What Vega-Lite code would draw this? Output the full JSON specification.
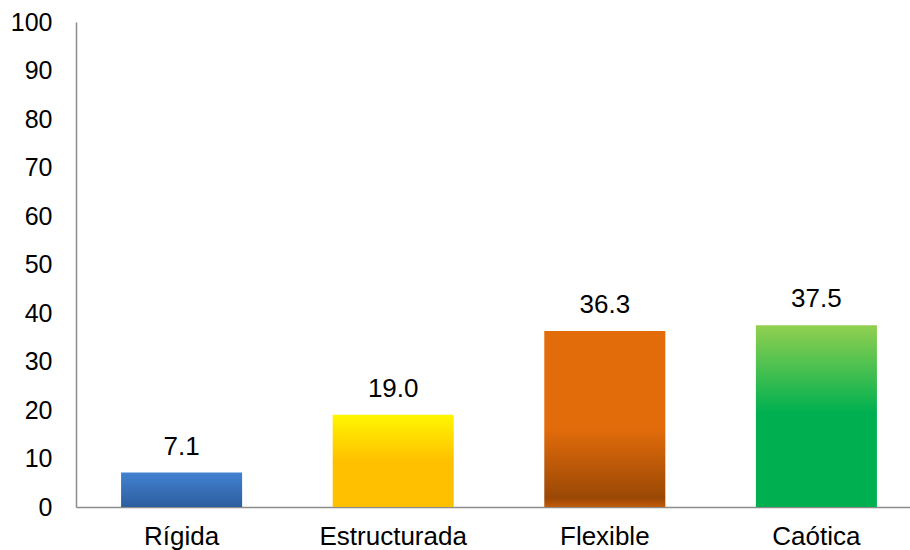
{
  "$schema": "https://vega.github.io/schema/vega-lite/v6.json",
  "autosize": {"type": "none"},
  "width": 834,
  "height": 485,
  "padding": {"left": 76, "top": 22, "right": 0, "bottom": 43},
  "background": "white",
  "config": {
    "view": {"stroke": null},
    "font": "Liberation Sans"
  },
  "data": {
    "values": [
      {"cat": "Rígida", "val": 7.1},
      {"cat": "Estructurada", "val": 19.0},
      {"cat": "Flexible", "val": 36.3},
      {"cat": "Caótica", "val": 37.5}
    ]
  },
  "encoding": {
    "x": {
      "field": "cat", "type": "nominal", "sort": null,
      "scale": {"range": [0, 846], "paddingInner": 0.428, "paddingOuter": 0.213},
      "axis": {
        "title": null, "labelAngle": 0, "ticks": false, "labelPadding": 16,
        "labelFontSize": 26, "labelColor": "#000000",
        "domainColor": "#8c8c8c", "domainWidth": 1.5, "grid": false
      }
    },
    "y": {
      "field": "val", "type": "quantitative",
      "scale": {"domain": [0, 100], "nice": false},
      "axis": {
        "title": null, "values": [0, 10, 20, 30, 40, 50, 60, 70, 80, 90, 100],
        "ticks": false, "labelPadding": 24, "labelFontSize": 25, "labelColor": "#000000",
        "domainColor": "#8c8c8c", "domainWidth": 1.5, "grid": false
      }
    }
  },
  "layer": [
    {
      "transform": [{"filter": "datum.cat === 'Rígida'"}],
      "mark": {"type": "bar", "color": {"gradient": "linear", "x1": 0, "y1": 0, "x2": 0, "y2": 1,
        "stops": [{"offset": 0, "color": "#4181D0"}, {"offset": 1, "color": "#2E5E9F"}]}}
    },
    {
      "transform": [{"filter": "datum.cat === 'Estructurada'"}],
      "mark": {"type": "bar", "color": {"gradient": "linear", "x1": 0, "y1": 0, "x2": 0, "y2": 1,
        "stops": [{"offset": 0, "color": "#FFF600"}, {"offset": 0.5, "color": "#FFC000"}, {"offset": 1, "color": "#FFC000"}]}}
    },
    {
      "transform": [{"filter": "datum.cat === 'Flexible'"}],
      "mark": {"type": "bar", "color": {"gradient": "linear", "x1": 0, "y1": 0, "x2": 0, "y2": 1,
        "stops": [{"offset": 0, "color": "#E36C0A"}, {"offset": 0.55, "color": "#E36C0A"}, {"offset": 0.95, "color": "#9A4806"}, {"offset": 1, "color": "#C25A08"}]}}
    },
    {
      "transform": [{"filter": "datum.cat === 'Caótica'"}],
      "mark": {"type": "bar", "color": {"gradient": "linear", "x1": 0, "y1": 0, "x2": 0, "y2": 1,
        "stops": [{"offset": 0, "color": "#92D050"}, {"offset": 0.48, "color": "#00B050"}, {"offset": 1, "color": "#00B050"}]}}
    },
    {
      "mark": {"type": "text", "baseline": "alphabetic", "dy": -18, "fontSize": 26, "color": "#000000"},
      "encoding": {"text": {"field": "val", "type": "quantitative", "format": ".1f"}}
    }
  ]
}
